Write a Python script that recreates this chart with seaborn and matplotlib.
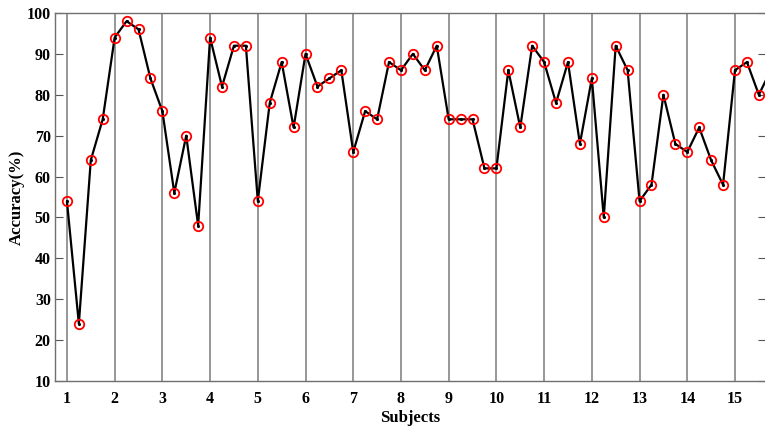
import numpy as np
import pandas as pd
import seaborn as sns
import matplotlib.pyplot as plt

# subject positions (4 runs per subject) and accuracy values
subjects = np.arange(1, 16)
positions = np.arange(1, 16, 0.25)
accuracy = [54, 24, 64, 74, 94, 98, 96, 84, 76, 56, 70, 48,
            94, 82, 92, 92, 54, 78, 88, 72, 90, 82, 84, 86,
            66, 76, 74, 88, 86, 90, 86, 92, 74, 74, 74, 62,
            62, 86, 72, 92, 88, 78, 88, 68, 84, 50, 92, 86,
            54, 58, 80, 68, 66, 72, 64, 58, 86, 88, 80, 86]

df = pd.DataFrame({'pos': positions, 'acc': accuracy})

sns.set_style('white')
plt.rcParams['font.family'] = ['Liberation Serif', 'DejaVu Serif']
plt.rcParams['font.weight'] = 'bold'
plt.rcParams['text.color'] = 'black'
plt.rcParams['axes.labelcolor'] = 'black'
plt.rcParams['xtick.color'] = 'black'
plt.rcParams['ytick.color'] = 'black'

fig = plt.figure(figsize=(7.65, 4.29), dpi=100)
ax = fig.add_axes([55 / 765, 48 / 429, 711 / 765, 368 / 429])

# vertical separators at each subject
for s in subjects:
    ax.axvline(s, color='#7a7a7a', lw=1.1, zorder=1)

sns.lineplot(data=df, x='pos', y='acc', color='black', lw=1.6,
             marker='o', markersize=6.8, markerfacecolor='none',
             markeredgecolor='red', markeredgewidth=1.3, ax=ax, zorder=3)
ax.plot(df.pos, df.acc, 'k.', markersize=2.5, zorder=4)

ax.set_xlim(0.75, 15.65)
ax.set_ylim(10, 100)
ax.set_xticks(subjects)
ax.set_yticks(range(10, 101, 10))
ax.tick_params(direction='in', labelsize=11.5,
               right=True, left=True, bottom=True, pad=3)
ax.tick_params(axis='y', length=6, color='#555555')
ax.tick_params(axis='x', length=0, pad=7)
for lab in ax.get_xticklabels() + ax.get_yticklabels():
    lab.set_fontweight('bold')
for sp in ax.spines.values():
    sp.set_color('#707070')
    sp.set_linewidth(1)
ax.spines['right'].set_visible(False)

ax.set_xlabel('Subjects', fontsize=12, fontweight='bold', labelpad=2)
ax.set_ylabel('Accuracy(%)', fontsize=12, fontweight='bold', labelpad=1)

plt.savefig('out.png', dpi=100)
